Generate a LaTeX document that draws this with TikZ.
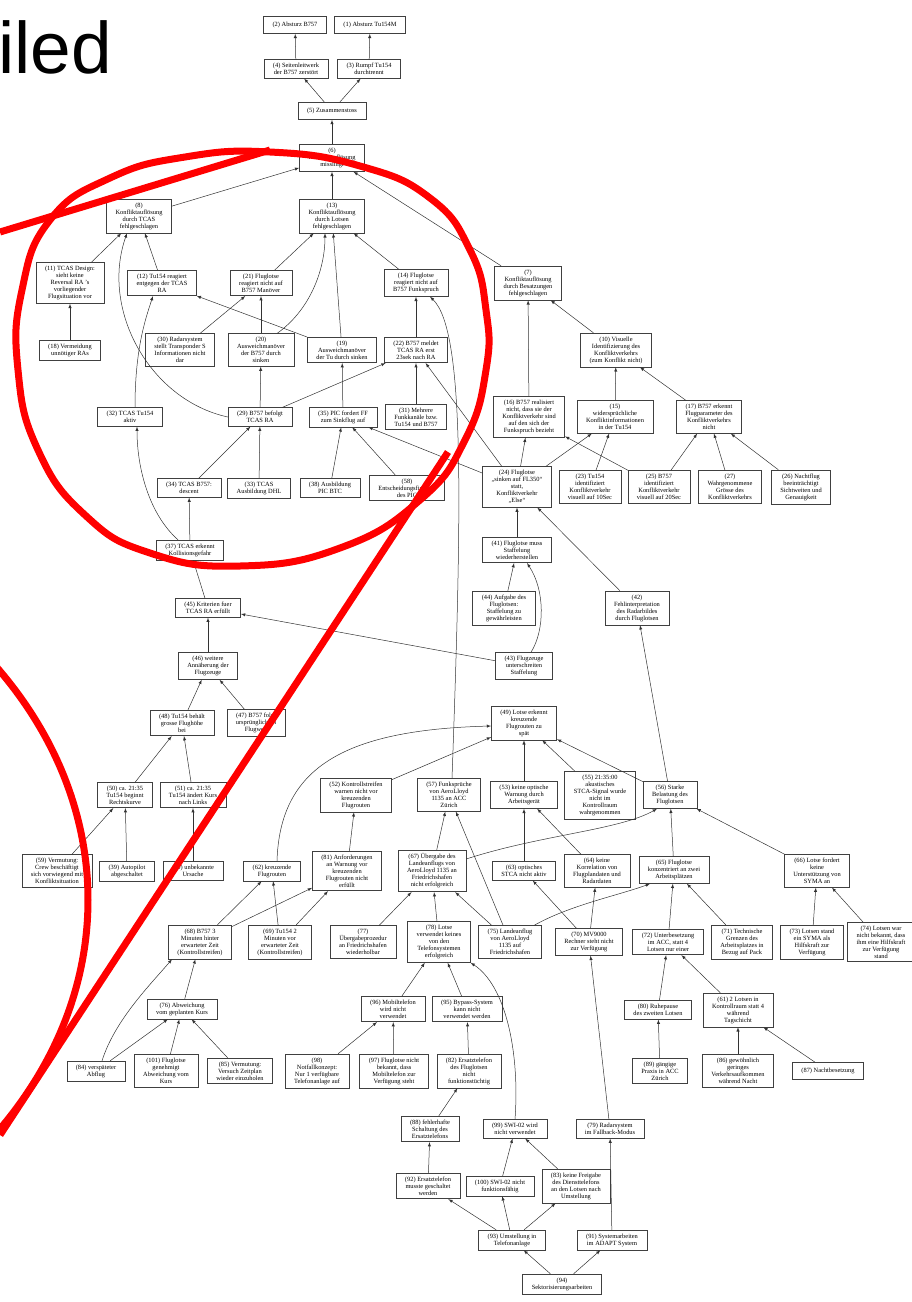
\documentclass[tikz,border=0pt]{standalone}
\usepackage{fontspec}
\setmainfont{Liberation Serif}
\newfontfamily\slidefont{Liberation Sans}
\usepackage{tikz}
\usetikzlibrary{arrows}
\tikzstyle{cause} = [rectangle, draw=black!75, line width=0.6pt, align=center, inner xsep=9pt, inner ysep=3.5pt, minimum height=17pt, minimum width=45pt, font=\fontsize{6.4}{7}\selectfont]
\tikzstyle{arrow} = [->,>=latex, draw=black!80, line width=0.5pt]
\tikzstyle{callout} = [draw=red, line width=7pt]

\begin{document}
\begin{tikzpicture}[x=1pt,y=-1pt]
\useasboundingbox (0,0) rectangle (912,1302);
\node[anchor=base west, inner sep=0pt, font=\slidefont\fontsize{73}{73}\selectfont] (title) at (-2,73) {iled};

% Unfall und Zusammenstoss
\node (n2) [cause] at (295,25) {(2) Absturz B757};
\node (n1) [cause] at (370,25) {(1) Absturz Tu154M};
\node (n4) [cause] at (296,69) {(4) Seitenleitwerk\\der B757 zerstört};
\node (n3) [cause] at (369,69) {(3) Rumpf Tu154\\durchtrennt};
\node (n5) [cause] at (332,111) {(5) Zusammenstoss};
\node (n6) [cause] at (332,158) {(6)\\Konfliktauflösung\\misslingt};
\node (n8) [cause] at (139,216) {(8)\\Konfliktauflösung\\durch TCAS\\fehlgeschlagen};
\node (n13) [cause] at (332,216) {(13)\\Konfliktauflösung\\durch Lotsen\\fehlgeschlagen};
\node (n7) [cause] at (528,283) {(7)\\Konfliktauflösung\\durch Besatzungen\\fehlgeschlagen};

% TCAS, Lotse, Besatzungen
\node (n11) [cause] at (70,283) {(11) TCAS Design:\\sieht keine\\Reversal RA 's\\vorliegender\\Flugsituation vor};
\node (n12) [cause] at (162,283) {(12) Tu154 reagiert\\entgegen der TCAS\\RA};
\node (n21) [cause] at (261,283) {(21) Fluglotse\\reagiert nicht auf\\B757 Manöver};
\node (n14) [cause] at (416,283) {(14) Fluglotse\\reagiert nicht auf\\B757 Funkspruch};
\node (n18) [cause] at (70,350) {(18) Vermeidung\\unnötiger RAs};
\node (n30) [cause] at (180,350) {(30) Radarsystem\\stellt Transponder S\\Informationen nicht\\dar};
\node (n20) [cause] at (261,350) {(20)\\Ausweichmanöver\\der B757 durch\\sinken};
\node (n19) [cause] at (342,350) {(19)\\Ausweichmanöver\\der Tu durch sinken};
\node (n22) [cause] at (416,350) {(22) B757 meldet\\TCAS RA erst\\23sek nach RA};
\node (n10) [cause] at (616,350) {(10) Visuelle\\Identifizierung des\\Konfliktverkehrs\\(zum Konflikt nicht)};
\node (n32) [cause] at (130,417) {(32) TCAS Tu154\\aktiv};
\node (n29) [cause] at (260,417) {(29) B757 befolgt\\TCAS RA};
\node (n35) [cause] at (343,417) {(35) PIC fordert FF\\zum Sinkflug auf};
\node (n31) [cause] at (416,417) {(31) Mehrere\\Funkkanäle bzw.\\Tu154 und B757};
\node (n16) [cause] at (529,417) {(16) B757 realisiert\\nicht, dass sie der\\Konfliktverkehr sind\\auf den sich der\\Funkspruch bezieht};
\node (n15) [cause] at (615,417) {(15)\\widersprüchliche\\Konfliktinformationen\\in der Tu154};
\node (n17) [cause] at (709,417) {(17) B757 erkennt\\Flugparameter des\\Konfliktverkehrs\\nicht};
\node (n34) [cause] at (189,488) {(34) TCAS B757:\\descent};
\node (n33) [cause] at (259,488) {(33) TCAS\\Ausbildung DHL};
\node (n38) [cause] at (330,488) {(38) Ausbildung\\PIC BTC};
\node (n58) [cause] at (407,488) {(58)\\Entscheidungsfindung\\des PIC};
\node (n24) [cause] at (517,487) {(24) Fluglotse\\„sinken auf FL350“\\statt,\\Konfliktverkehr\\„Else“};
\node (n23) [cause] at (590,487) {(23) Tu154\\identifiziert\\Konfliktverkehr\\visuell auf 10Sec};
\node (n25) [cause] at (659,487) {(25) B757\\identifiziert\\Konfliktverkehr\\visuell auf 20Sec};
\node (n27) [cause] at (730,487) {(27)\\Wahrgenommene\\Grösse des\\Konfliktverkehrs};
\node (n26) [cause] at (801,487) {(26) Nachtflug\\beeinträchtigt\\Sichtweiten und\\Genauigkeit};
\node (n37) [cause] at (190,550) {(37) TCAS erkennt\\Kollisionsgefahr};
\node (n41) [cause] at (517,550) {(41) Fluglotse muss\\Staffelung\\wiederherstellen};
\node (n45) [cause] at (208,608) {(45) Kriterien fuer\\TCAS RA erfüllt};
\node (n44) [cause] at (504,608) {(44) Aufgabe des\\Fluglotsen:\\Staffelung zu\\gewährleisten};
\node (n42) [cause] at (637,608) {(42)\\Fehlinterpretation\\des Radarbildes\\durch Fluglotsen};
\node (n46) [cause] at (208,666) {(46) weitere\\Annäherung der\\Flugzeuge};
\node (n43) [cause] at (524,666) {(43) Flugzeuge\\unterschreiten\\Staffelung};

% Flugverlauf und Kontrollraum
\node (n48) [cause] at (182,723) {(48) Tu154 behält\\grosse Flughöhe\\bei};
\node (n47) [cause] at (256,723) {(47) B757 folgt\\ursprünglichem\\Flugweg};
\node (n49) [cause] at (524,723) {(49) Lotse erkennt\\kreuzende\\Flugrouten zu\\spät};
\node (n50) [cause] at (125,795) {(50) ca. 21:35\\Tu154 beginnt\\Rechtskurve};
\node (n51) [cause] at (193,795) {(51) ca. 21:35\\Tu154 ändert Kurs\\nach Links};
\node (n52) [cause] at (356,795) {(52) Kontrollstreifen\\warnen nicht vor\\kreuzenden\\Flugrouten};
\node (n57) [cause] at (449,795) {(57) Funksprüche\\von AeroLloyd\\1135 an ACC\\Zürich};
\node (n53) [cause] at (524,795) {(53) keine optische\\Warnung durch\\Arbeitsgerät};
\node (n55) [cause] at (600,795) {(55) 21:35:00\\akustisches\\STCA-Signal wurde\\nicht im\\Kontrollraum\\wahrgenommen};
\node (n56) [cause] at (670,795) {(56) Starke\\Belastung des\\Fluglotsen};
\node (n59) [cause] at (57,871) {(59) Vermutung:\\Crew beschäftigt\\sich vorwiegend mit\\Konfliktsituation};
\node (n39) [cause] at (127,871) {(39) Autopilot\\abgeschaltet};
\node (n40) [cause] at (193,871) {(40) unbekannte\\Ursache};
\node (n62) [cause] at (272,871) {(62) kreuzende\\Flugrouten};
\node (n81) [cause] at (347,871) {(81) Anforderungen\\an Warnung vor\\kreuzenden\\Flugrouten nicht\\erfüllt};
\node (n67) [cause] at (432,871) {(67) Übergabe des\\Landeanflugs von\\AeroLloyd 1135 an\\Friedrichshafen\\nicht erfolgreich};
\node (n63) [cause] at (524,871) {(63) optisches\\STCA nicht aktiv};
\node (n64) [cause] at (597,871) {(64) keine\\Korrelation von\\Flugplandaten und\\Radardaten};
\node (n65) [cause] at (674,870) {(65) Fluglotse\\konzentriert an zwei\\Arbeitsplätzen};
\node (n66) [cause] at (817,871) {(66) Lotse fordert\\keine\\Unterstützung von\\SYMA an};
\node (n68) [cause] at (200,942) {(68) B757 3\\Minuten hinter\\erwarteter Zeit\\(Kontrollstreifen)};
\node (n69) [cause] at (280,942) {(69) Tu154 2\\Minuten vor\\erwarteter Zeit\\(Kontrollstreifen)};
\node (n77) [cause] at (363,942) {(77)\\Übergabeprozedur\\an Friedrichshafen\\wiederholbar};
\node (n78) [cause] at (439,942) {(78) Lotse\\verwendet keines\\von den\\Telefonsystemen\\erfolgreich};
\node (n75) [cause] at (510,942) {(75) Landeanflug\\von AeroLloyd\\1135 auf\\Friedrichshafen};
\node (n70) [cause] at (589,942) {(70) MV9000\\Rechner steht nicht\\zur Verfügung};
\node (n72) [cause] at (668,942) {(72) Unterbesetzung\\im ACC, statt 4\\Lotsen nur einer};
\node (n71) [cause] at (742,942) {(71) Technische\\Grenzen des\\Arbeitsplatzes in\\Bezug auf Pack};
\node (n73) [cause] at (812,942) {(73) Lotsen stand\\ein SYMA als\\Hilfskraft zur\\Verfügung};
\node (n74) [cause] at (881,942) {(74) Lotsen war\\nicht bekannt, dass\\ihm eine Hilfskraft\\zur Verfügung\\stand};

% Telefonanlage und Personal
\node (n76) [cause] at (182,1009) {(76) Abweichung\\vom geplanten Kurs};
\node (n96) [cause] at (393,1009) {(96) Mobiltelefon\\wird nicht\\verwendet};
\node (n95) [cause] at (467,1009) {(95) Bypass-System\\kann nicht\\verwendet werden};
\node (n80) [cause] at (658,1010) {(80) Ruhepause\\des zweiten Lotsen};
\node (n61) [cause] at (738,1010) {(61) 2 Lotsen in\\Kontrollraum statt 4\\während\\Tagschicht};
\node (n84) [cause] at (96,1071) {(84) verspäteter\\Abflug};
\node (n101) [cause] at (166,1071) {(101) Fluglotse\\genehmigt\\Abweichung vom\\Kurs};
\node (n85) [cause] at (240,1071) {(85) Vermutung:\\Versuch Zeitplan\\wieder einzuholen};
\node (n98) [cause] at (317,1071) {(98)\\Notfallkonzept:\\Nur 1 verfügbare\\Telefonanlage auf};
\node (n97) [cause] at (394,1071) {(97) Fluglotse nicht\\bekannt, dass\\Mobiltelefon zur\\Verfügung steht};
\node (n82) [cause] at (469,1071) {(82) Ersatztelefon\\des Fluglotsen\\nicht\\funktionstüchtig};
\node (n89) [cause] at (660,1071) {(89) gängige\\Praxis in ACC\\Zürich};
\node (n86) [cause] at (738,1071) {(86) gewöhnlich\\geringes\\Verkehrsaufkommen\\während Nacht};
\node (n87) [cause] at (828,1071) {(87) Nachtbesetzung};
\node (n88) [cause] at (430,1129) {(88) fehlerhafte\\Schaltung des\\Ersatztelefons};
\node (n99) [cause] at (515,1129) {(99) SWI-02 wird\\nicht verwendet};
\node (n79) [cause] at (610,1129) {(79) Radarsystem\\im Fallback-Modus};
\node (n92) [cause] at (428,1186) {(92) Ersatztelefon\\musste geschaltet\\werden};
\node (n100) [cause] at (500,1186) {(100) SWI-02 nicht\\funktionsfähig};
\node (n83) [cause] at (576,1186) {(83) keine Freigabe\\des Diensttelefons\\an den Lotsen nach\\Umstellung};
\node (n93) [cause] at (512,1240) {(93) Umstellung in\\Telefonanlage};
\node (n91) [cause] at (612,1240) {(91) Systemarbeiten\\im ADAPT System};
\node (n94) [cause] at (562,1284) {(94)\\Sektorisierungsarbeiten};

% Ursache -> Wirkung
\draw [arrow] (n4) -- (n2);
\draw [arrow] (n3) -- (n1);
\draw [arrow] (n5) -- (n4);
\draw [arrow] (n5) -- (n3);
\draw [arrow] (n6) -- (n5);
\draw [arrow] (n8) -- (n6);
\draw [arrow] (n13) -- (n6);
\draw [arrow] (n7) -- (n6);
\draw [arrow] (n11) -- (n8);
\draw [arrow] (n12) -- (n8);
\draw [arrow] (n29.west) .. controls (150,400) and (100,310) .. ([xshift=-12pt]n8.south);
\draw [arrow] (n18) -- (n11);
\draw [arrow] ([xshift=5pt]n32.north) .. controls (135,350) and (145,320) .. ([xshift=-9pt]n12.south);
\draw [arrow] (n19) -- (n12);
\draw [arrow] (n21) -- (n13);
\draw [arrow] ([xshift=16pt]n20.north) .. controls (310,310) and (325,270) .. ([xshift=-7pt]n13.south);
\draw [arrow] (n19) -- (n13);
\draw [arrow] (n14) -- (n13);
\draw [arrow] (n30) -- (n21);
\draw [arrow] (n20) -- (n21);
\draw [arrow] (n29) -- (n20);
\draw [arrow] (n29) -- (n22);
\draw [arrow] (n35) -- (n19);
\draw [arrow] (n22) -- (n14);
\draw [arrow] (n31) -- (n22);
\draw [arrow] (n24) -- (n22);
\draw [arrow] ([xshift=3pt]n57.north) .. controls (462,500) and (465,330) .. ([xshift=14pt]n14.south);
\draw [arrow] (n16) -- (n7);
\draw [arrow] (n10) -- (n7);
\draw [arrow] (n15) -- (n10);
\draw [arrow] (n17) -- (n10);
\draw [arrow] (n24) -- (n16);
\draw [arrow] (n24) -- (n15);
\draw [arrow] (n23) -- (n15);
\draw [arrow] (n25) -- (n16);
\draw [arrow] (n25) -- (n17);
\draw [arrow] (n27) -- (n17);
\draw [arrow] (n26) -- (n17);
\draw [arrow] (n34) -- (n29);
\draw [arrow] (n33) -- (n29);
\draw [arrow] (n38) -- (n35);
\draw [arrow] (n58) -- (n35);
\draw [arrow] (n24) -- (n35);
\draw [arrow] (n41) -- (n24);
\draw [arrow] (n42) -- (n24);
\draw [arrow] (n44) -- (n41);
\draw [arrow] ([xshift=7pt]n43.north) .. controls (545,630) and (545,590) .. ([xshift=10pt]n41.south);
\draw [arrow] (n43) -- (n45);
\draw [arrow] (n45) -- (n37);
\draw [arrow] (n37) -- (n34);
\draw [arrow] ([xshift=-12pt]n37.north) .. controls (150,515) and (137,470) .. ([xshift=7pt]n32.south);
\draw [arrow] (n46) -- (n45);
\draw [arrow] (n48) -- (n46);
\draw [arrow] (n47) -- (n46);
\draw [arrow] (n50) -- (n48);
\draw [arrow] (n51) -- (n48);
\draw [arrow] (n59) -- (n50);
\draw [arrow] (n39) -- (n50);
\draw [arrow] (n40) -- (n51);
\draw [arrow] ([xshift=5pt]n62.north) .. controls (280,770) and (340,730) .. ([yshift=-3pt]n49.west);
\draw [arrow] (n52) -- (n49);
\draw [arrow] (n53) -- (n49);
\draw [arrow] (n55) -- (n49);
\draw [arrow] (n56) -- (n49);
\draw [arrow] (n56) -- (n42);
\draw [arrow] (n67) -- (n57);
\draw [arrow] (n75) -- (n57);
\draw [arrow] (n81) -- (n52);
\draw [arrow] (n68) -- (n62);
\draw [arrow] (n68) -- (n81);
\draw [arrow] (n69) -- (n62);
\draw [arrow] (n69) -- (n81);
\draw [arrow] (n77) -- (n67);
\draw [arrow] (n78) -- (n67);
\draw [arrow] (n75) -- (n67);
\draw [arrow] ([yshift=12pt]n67.east) .. controls (540,835) and (620,830) .. ([xshift=-13pt]n56.south);
\draw [arrow] (n63) -- (n53);
\draw [arrow] (n64) -- (n53);
\draw [arrow] (n70) -- (n63);
\draw [arrow] (n70) -- (n64);
\draw [arrow] ([xshift=24pt]n75.north) .. controls (570,905) and (620,895) .. ([xshift=-24pt]n65.south);
\draw [arrow] (n65) -- (n56);
\draw [arrow] (n66) -- (n56);
\draw [arrow] (n72) -- (n65);
\draw [arrow] (n71) -- (n65);
\draw [arrow] (n73) -- (n66);
\draw [arrow] (n74) -- (n66);
\draw [arrow] (n80) -- (n72);
\draw [arrow] (n61) -- (n72);
\draw [arrow] (n89) -- (n80);
\draw [arrow] (n86) -- (n61);
\draw [arrow] (n87) -- (n61);
\draw [arrow] (n79) -- (n70);
\draw [arrow] (n91) -- (n79);
\draw [arrow] (n96) -- (n78);
\draw [arrow] (n95) -- (n78);
\draw [arrow] (n99.north) .. controls (520,1050) and (505,985) .. (n78.south east);
\draw [arrow] (n98) -- (n96);
\draw [arrow] (n97) -- (n96);
\draw [arrow] (n82) -- (n95);
\draw [arrow] (n88) -- (n82);
\draw [arrow] (n92) -- (n88);
\draw [arrow] (n100) -- (n99);
\draw [arrow] (n83) -- (n99);
\draw [arrow] (n93) -- (n92);
\draw [arrow] (n93) -- (n100);
\draw [arrow] (n93) -- (n83);
\draw [arrow] (n94) -- (n93);
\draw [arrow] (n94) -- (n91);
\draw [arrow] (n76) -- (n68);
\draw [arrow] ([xshift=6pt]n84.north) .. controls (115,1020) and (150,985) .. ([xshift=-28pt]n68.south);
\draw [arrow] (n84) -- (n76);
\draw [arrow] (n101) -- (n76);
\draw [arrow] (n85) -- (n76);

% rote Markierung
\begin{scope}
\clip (0,0) rectangle (912,1302);
\draw [callout] plot[smooth cycle, tension=0.8] coordinates {(270,152) (360,166) (430,198) (470,250) (486,310) (486,370) (465,440) (420,500) (340,548) (240,566) (150,553) (85,515) (38,450) (18,370) (22,290) (50,220) (110,178) (185,157)};
\draw [callout] (0,232) -- (270,150);
\draw [callout] (448,452) -- (0,1135);
\draw [callout] (-457,900) ellipse [x radius=545, y radius=420];
\end{scope}
\end{tikzpicture}
\end{document}
